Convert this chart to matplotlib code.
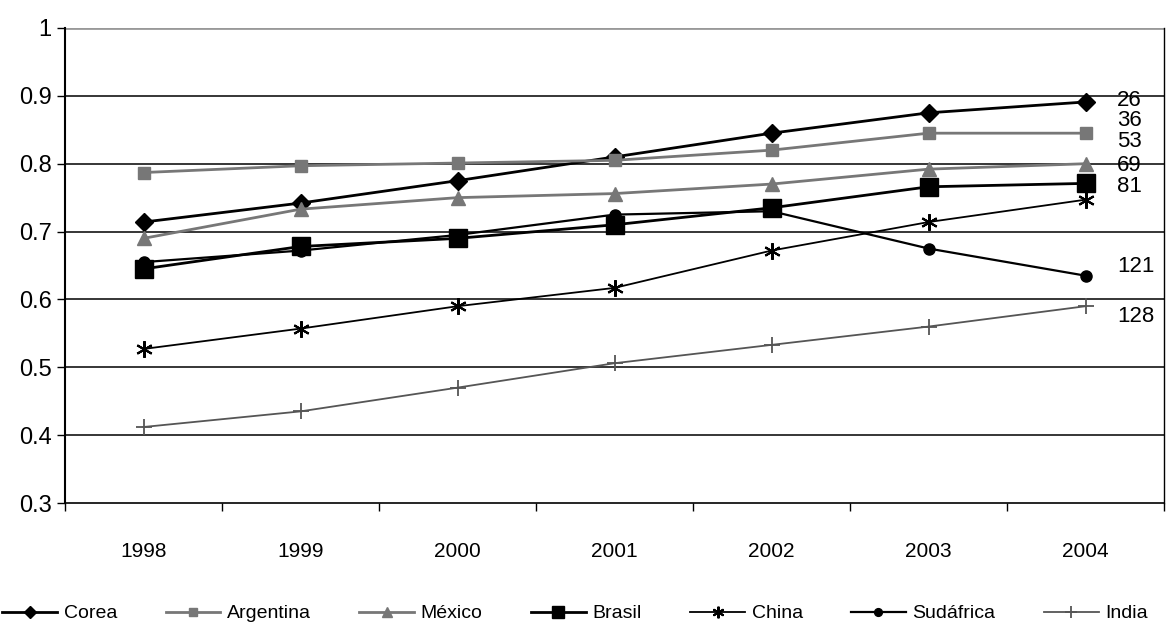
import numpy as np
import matplotlib.pyplot as plt

plt.rcParams['font.family'] = ['Liberation Sans', 'DejaVu Sans']

# datos
years = ['1998', '1999', '2000', '2001', '2002', '2003', '2004']
corea = [0.714, 0.742, 0.775, 0.810, 0.845, 0.875, 0.891]
argentina = [0.787, 0.797, 0.801, 0.805, 0.820, 0.845, 0.845]
mexico = [0.690, 0.733, 0.750, 0.756, 0.770, 0.792, 0.800]
brasil = [0.645, 0.678, 0.690, 0.710, 0.735, 0.766, 0.771]
china = [0.527, 0.557, 0.590, 0.617, 0.672, 0.714, 0.747]
sudafrica = [0.655, 0.672, 0.695, 0.725, 0.730, 0.675, 0.635]
india = [0.412, 0.435, 0.470, 0.506, 0.533, 0.560, 0.590]

rank_labels = ['26', '36', '53', '69', '81', '121', '128']
rank_y = [0.893, 0.864, 0.833, 0.797, 0.767, 0.648, 0.575]

fig = plt.figure(figsize=(11.66, 6.4), dpi=100)
ax = fig.add_axes([65/1166, 1-503/640, 1099/1166, 475/640])
x = np.arange(len(years))

ax.plot(x, corea, color='black', lw=2, marker='D', ms=9, label='Corea')
ax.plot(x, argentina, color='#777777', lw=2, marker='s', ms=9, label='Argentina')
ax.plot(x, mexico, color='#777777', lw=2, marker='^', ms=10, label='México')
ax.plot(x, brasil, color='black', lw=2, marker='s', ms=13, label='Brasil')
ax.plot(x, china, color='black', lw=1.3, marker=(6, 2, 0), ms=12, mew=1.5, label='China')
ax.plot(x, sudafrica, color='black', lw=1.6, marker='o', ms=8, label='Sudáfrica')
ax.plot(x, india, color='#555555', lw=1.3, marker='+', ms=12, mew=1.3, label='India')

for t, yv in zip(rank_labels, rank_y):
    ax.text(6.2, yv, t, fontsize=16, va='center', ha='left')

ax.set_ylim(0.3, 1.0)
ax.set_xlim(-0.47, 6.35)
ax.set_yticks([0.3, 0.4, 0.5, 0.6, 0.7, 0.8, 0.9, 1.0])
ax.set_yticklabels(['0.3', '0.4', '0.5', '0.6', '0.7', '0.8', '0.9', '1'], fontsize=17)
for yv in [0.4, 0.5, 0.6, 0.7, 0.8, 0.9]:
    ax.axhline(yv, color='black', lw=1.1, zorder=0)
ax.axhline(1.0, color='#999999', lw=2, zorder=0)

ax.set_xticks(np.arange(-0.5, 6.6, 1))
ax.set_xticklabels([])
ax.set_xticks(x, minor=True)
ax.set_xticklabels(years, minor=True, fontsize=15)
ax.tick_params(axis='x', which='minor', length=0, pad=28)
ax.tick_params(axis='x', which='major', length=6, width=1)
ax.tick_params(axis='y', length=6, width=1)

ax.spines['top'].set_visible(False)
ax.spines['left'].set_linewidth(1.5)
ax.spines['bottom'].set_linewidth(1.2)
ax.spines['right'].set_linewidth(1)

fig.legend(loc='lower left', bbox_to_anchor=(-0.013, 0.0), ncol=7, frameon=False,
           fontsize=14, handlelength=2.8, handletextpad=0.35, columnspacing=2.5,
           markerscale=0.7)

fig.savefig('out.png', dpi=100)
